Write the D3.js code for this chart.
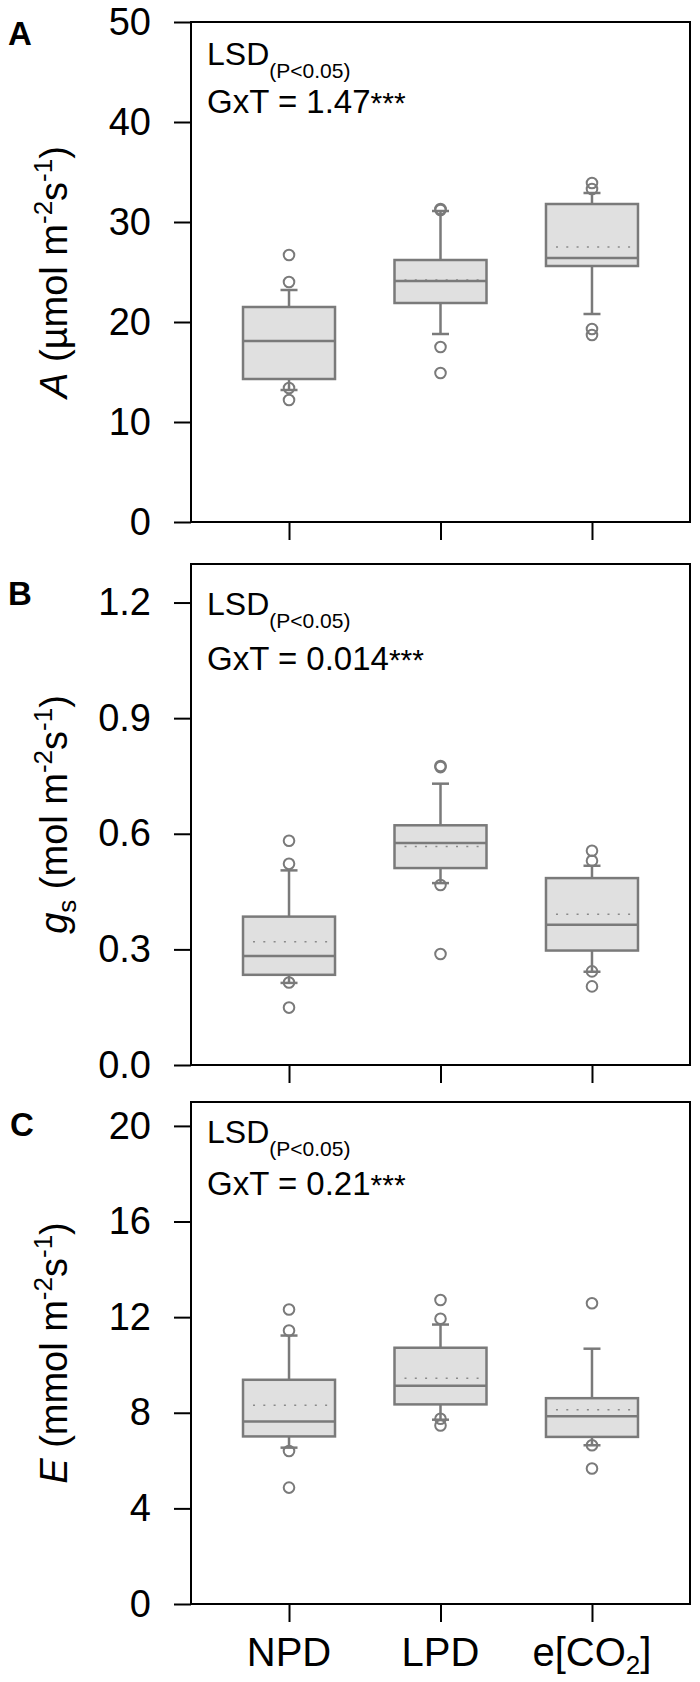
<!DOCTYPE html>
<html><head><meta charset="utf-8">
<script src="https://cdn.jsdelivr.net/npm/d3@7"></script>
<style>
body{margin:0;background:#fff}
svg{display:block}
text{font-family:"Liberation Sans",Arial,Helvetica,sans-serif;fill:#000}
</style>
</head><body>
<svg id="chart" width="700" height="1682"></svg>
<script>
// ---------------- data ----------------
const categories = ["NPD", "LPD", "e[CO2]"];

// Panel A : net photosynthesis A (µmol m-2 s-1)
const A_ticks = [0, 10, 20, 30, 40, 50];
const A_q1 = [14.3, 21.9, 25.6];
const A_median = [18.1, 24.1, 26.4];
const A_q3 = [21.5, 26.2, 31.8];
const A_whiskerLow = [13.2, 18.8, 20.8];
const A_whiskerHigh = [23.2, 31.1, 32.9];
const A_mean = [18.1, 24.2, 27.5];
const A_outliers = [[26.7, 24.0, 13.4, 12.2], [31.3, 31.2, 17.5, 14.9], [33.9, 33.3, 19.3, 18.7]];

// Panel B : stomatal conductance gs (mol m-2 s-1)
const B_ticks = [0, 0.3, 0.6, 0.9, 1.2];
const B_q1 = [0.234, 0.511, 0.297];
const B_median = [0.283, 0.576, 0.364];
const B_q3 = [0.385, 0.622, 0.485];
const B_whiskerLow = [0.213, 0.472, 0.242];
const B_whiskerHigh = [0.505, 0.730, 0.517];
const B_mean = [0.320, 0.567, 0.391];
const B_outliers = [[0.582, 0.522, 0.214, 0.149], [0.773, 0.776, 0.467, 0.288], [0.556, 0.530, 0.243, 0.204]];

// Panel C : transpiration E (mmol m-2 s-1)
const C_ticks = [0, 4, 8, 12, 16, 20];
const C_q1 = [7.01, 8.35, 6.99];
const C_median = [7.63, 9.13, 7.85];
const C_q3 = [9.38, 10.72, 8.61];
const C_whiskerLow = [6.54, 7.71, 6.64];
const C_whiskerHigh = [11.23, 11.69, 10.68];
const C_mean = [8.31, 9.44, 8.13];
const C_outliers = [[12.32, 11.44, 6.40, 4.87], [12.72, 11.93, 7.75, 7.47], [12.58, 6.64, 5.67]];

const panelLetters = ["A", "B", "C"];
const lsdValues = ["1.47", "0.014", "0.21"];

// ---------------- layout ----------------
const left = 191, right = 690;
const panels = [
  {letter: panelLetters[0], lsd: lsdValues[0], top: 22, bottom: 522, domain: [0, 50], ticks: A_ticks, fmt: d3.format("d"),
   q1: A_q1, med: A_median, q3: A_q3, wl: A_whiskerLow, wh: A_whiskerHigh, mean: A_mean, out: A_outliers,
   letterPos: [8, 45], lsdY: 65, gxtY: 113, title: "A", titleX: 67, xlabels: false},
  {letter: panelLetters[1], lsd: lsdValues[1], top: 564, bottom: 1065, domain: [0, 1.3], ticks: B_ticks, fmt: d3.format(".1f"),
   q1: B_q1, med: B_median, q3: B_q3, wl: B_whiskerLow, wh: B_whiskerHigh, mean: B_mean, out: B_outliers,
   letterPos: [8, 605], lsdY: 615, gxtY: 670, title: "B", titleX: 67, xlabels: false},
  {letter: panelLetters[2], lsd: lsdValues[2], top: 1102, bottom: 1604, domain: [0, 21], ticks: C_ticks, fmt: d3.format("d"),
   q1: C_q1, med: C_median, q3: C_q3, wl: C_whiskerLow, wh: C_whiskerHigh, mean: C_mean, out: C_outliers,
   letterPos: [10, 1136], lsdY: 1143, gxtY: 1195, title: "C", titleX: 67, xlabels: true}
];

const boxW = 92, capW = 17;
const boxStroke = "#7a7a7a", boxFill = "#e0e0e0";

const svg = d3.select("#chart");
const x = d3.scalePoint().domain(categories).range([left, right]).padding(0.647);

panels.forEach(p => {
  const y = d3.scaleLinear().domain(p.domain).range([p.bottom, p.top]);
  const g = svg.append("g");

  // boxes
  categories.forEach((c, i) => {
    const cx = x(c);
    const bg = g.append("g").attr("stroke", boxStroke).attr("stroke-width", 2.5).attr("fill", "none");
    bg.append("line").attr("x1", cx).attr("x2", cx).attr("y1", y(p.q3[i])).attr("y2", y(p.wh[i]));
    bg.append("line").attr("x1", cx).attr("x2", cx).attr("y1", y(p.q1[i])).attr("y2", y(p.wl[i]));
    bg.append("line").attr("x1", cx - capW / 2).attr("x2", cx + capW / 2).attr("y1", y(p.wh[i])).attr("y2", y(p.wh[i]));
    bg.append("line").attr("x1", cx - capW / 2).attr("x2", cx + capW / 2).attr("y1", y(p.wl[i])).attr("y2", y(p.wl[i]));
    bg.append("rect").attr("x", cx - boxW / 2).attr("width", boxW)
      .attr("y", y(p.q3[i])).attr("height", y(p.q1[i]) - y(p.q3[i]))
      .attr("fill", boxFill);
    bg.append("line").attr("x1", cx - boxW / 2 + 10).attr("x2", cx + boxW / 2 - 6)
      .attr("y1", y(p.mean[i])).attr("y2", y(p.mean[i]))
      .attr("stroke", "#8a8a8a").attr("stroke-width", 1.5).attr("stroke-dasharray", "2,8.3");
    bg.append("line").attr("x1", cx - boxW / 2).attr("x2", cx + boxW / 2)
      .attr("y1", y(p.med[i])).attr("y2", y(p.med[i]));
    bg.selectAll("circle.o").data(p.out[i]).join("circle").attr("class", "o")
      .attr("cx", cx).attr("cy", d => y(d)).attr("r", 5.3)
      .attr("stroke-width", 2).attr("fill", "none");
  });

  // frame
  g.append("rect").attr("x", left).attr("y", p.top).attr("width", right - left).attr("height", p.bottom - p.top)
    .attr("fill", "none").attr("stroke", "#000").attr("stroke-width", 2);

  // y axis
  const ya = d3.axisLeft(y).tickValues(p.ticks).tickSize(17).tickPadding(23).tickFormat(p.fmt);
  const yg = g.append("g").attr("transform", `translate(${left},0)`).call(ya);
  yg.select(".domain").remove();
  yg.selectAll(".tick line").attr("stroke", "#000").attr("stroke-width", 2);
  yg.selectAll(".tick text").attr("font-size", 38).attr("font-family", "Liberation Sans, Arial, sans-serif").attr("fill", "#000");

  // x axis ticks
  const xa = d3.axisBottom(x).tickSize(18).tickFormat("");
  const xg = g.append("g").attr("transform", `translate(0,${p.bottom})`).call(xa);
  xg.select(".domain").remove();
  xg.selectAll(".tick text").remove();
  xg.selectAll(".tick line").attr("stroke", "#000").attr("stroke-width", 2);

  if (p.xlabels) {
    categories.forEach(c => {
      const t = g.append("text").attr("x", x(c)).attr("y", p.bottom + 62).attr("text-anchor", "middle").attr("font-size", 40);
      const m = c.match(/^(.*)(\d)(\])$/);
      if (m) {
        t.append("tspan").text(m[1]);
        t.append("tspan").attr("font-size", 26).attr("dy", 8).text(m[2]);
        t.append("tspan").attr("dy", -8).text(m[3]);
      } else {
        t.text(c);
      }
    });
  }

  // panel letter
  svg.append("text").attr("x", p.letterPos[0]).attr("y", p.letterPos[1])
    .attr("font-size", 33).attr("font-weight", "bold").text(p.letter);

  // LSD annotation
  const lt = svg.append("text").attr("x", 207).attr("y", p.lsdY).attr("font-size", 32);
  lt.append("tspan").text("LSD");
  lt.append("tspan").attr("font-size", 21).attr("dy", 13).text("(P<0.05)");
  const gt = svg.append("text").attr("x", 207).attr("y", p.gxtY).attr("font-size", 33);
  gt.append("tspan").text("GxT = " + p.lsd);
  gt.append("tspan").attr("font-size", 30).text("***");

  // y title
  const cy = (p.top + p.bottom) / 2;
  const tt = svg.append("text").attr("transform", `translate(${p.titleX},${cy}) rotate(-90)`)
    .attr("text-anchor", "middle").attr("font-size", 38);
  if (p.title === "A") {
    tt.append("tspan").attr("font-style", "italic").text("A");
    tt.append("tspan").text(" (\u00B5mol m");
  } else if (p.title === "B") {
    tt.append("tspan").attr("font-style", "italic").text("g");
    tt.append("tspan").attr("font-size", 26).attr("dy", 9).text("s");
    tt.append("tspan").attr("dy", -9).text(" (mol m");
  } else {
    tt.append("tspan").attr("font-style", "italic").text("E");
    tt.append("tspan").text(" (mmol m");
  }
  tt.append("tspan").attr("font-size", 26).attr("dy", -15).text("-2");
  tt.append("tspan").attr("dy", 15).text("s");
  tt.append("tspan").attr("font-size", 26).attr("dy", -15).text("-1");
  tt.append("tspan").attr("dy", 15).text(")");
});
</script>
</body></html>
